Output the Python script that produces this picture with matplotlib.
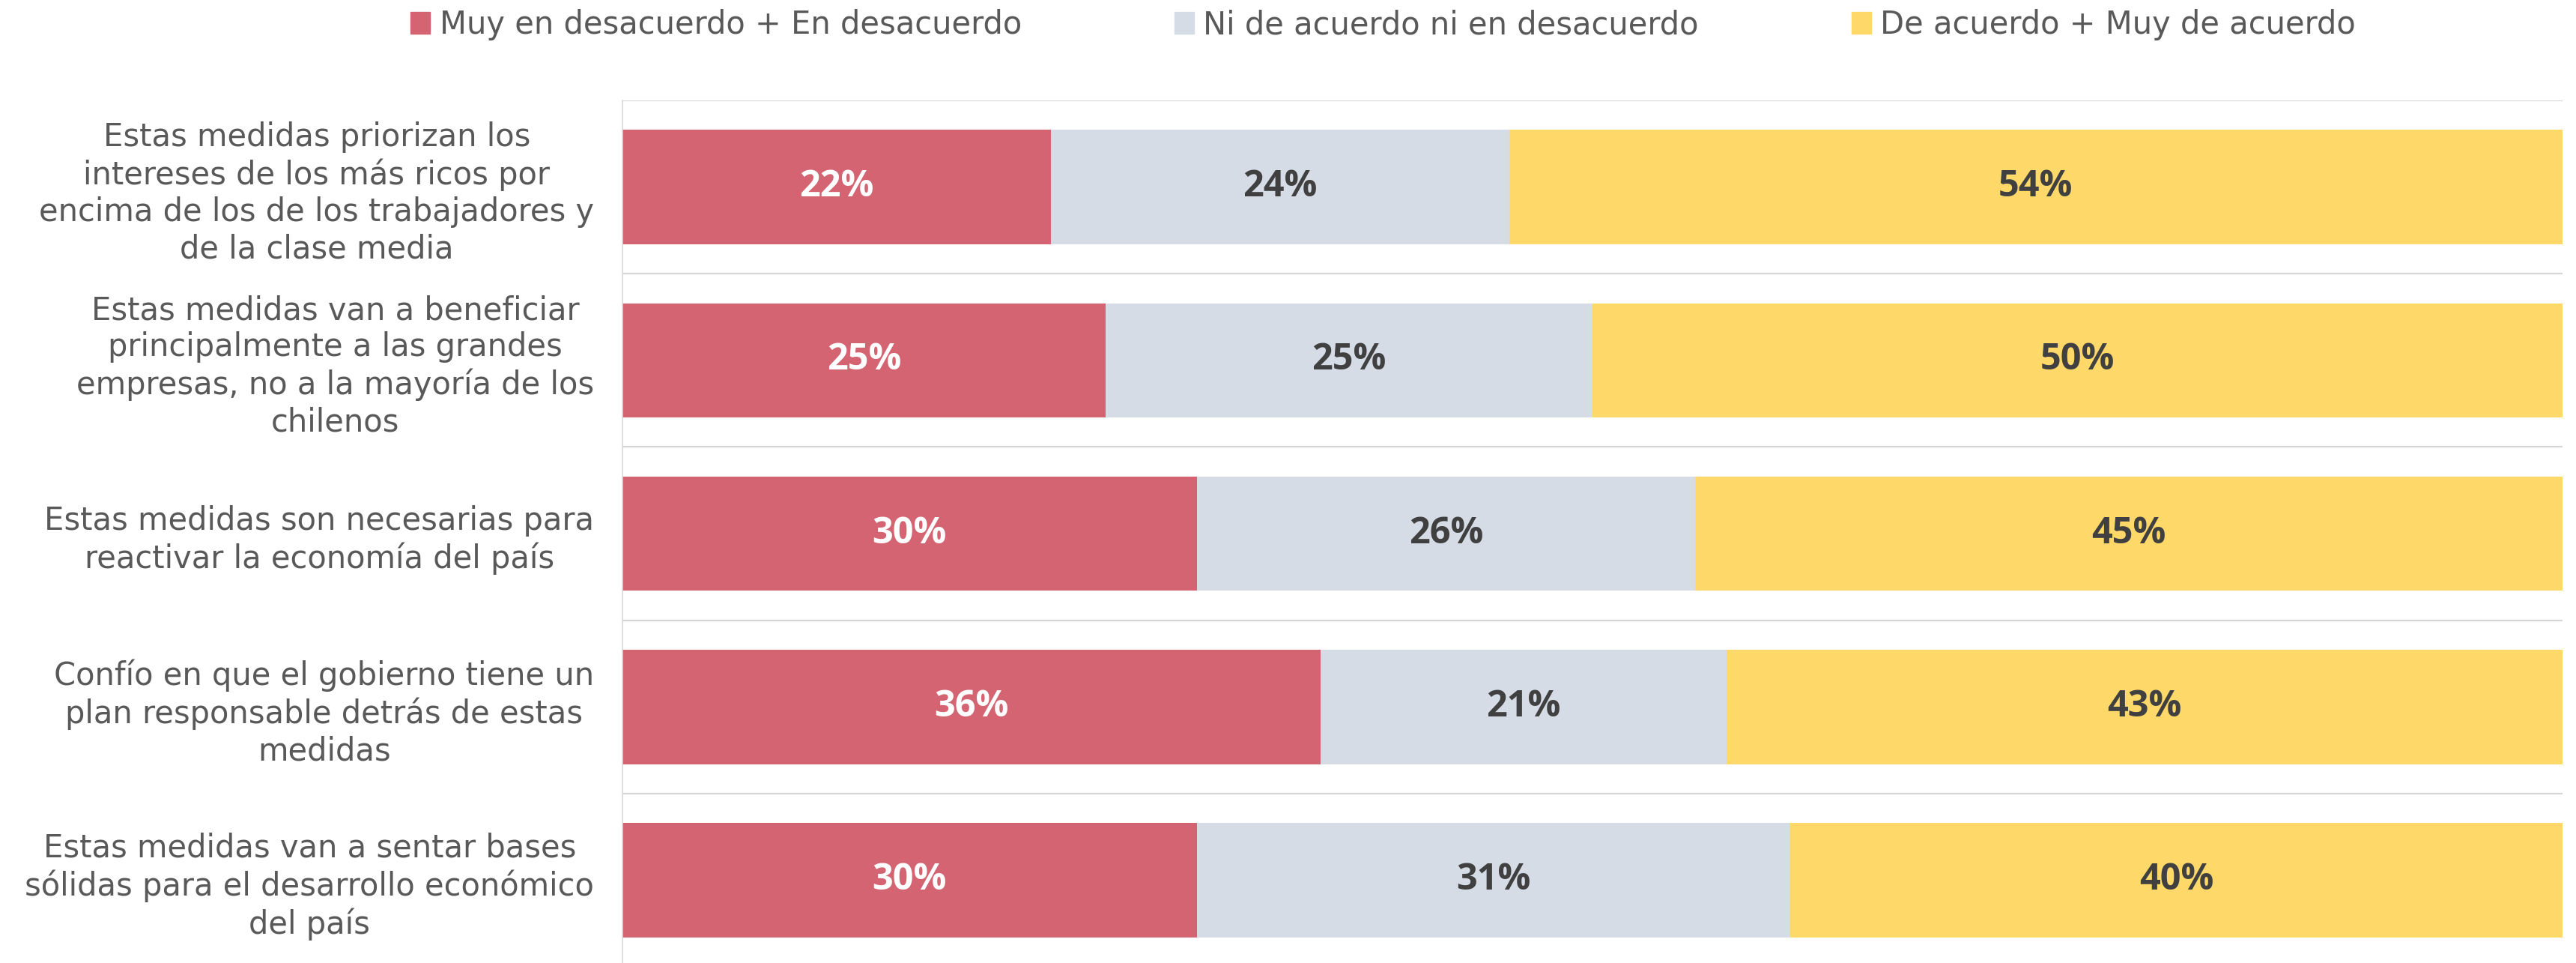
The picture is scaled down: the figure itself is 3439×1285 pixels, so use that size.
import numpy as np
import matplotlib.pyplot as plt
from matplotlib.patches import Patch

plt.rcParams['font.family'] = ['DejaVu Sans']

# data
categories = [
    "Estas medidas priorizan los\nintereses de los más ricos por\nencima de los de los trabajadores y\nde la clase media",
    "Estas medidas van a beneficiar\nprincipalmente a las grandes\nempresas, no a la mayoría de los\nchilenos",
    "Estas medidas son necesarias para\nreactivar la economía del país",
    "Confío en que el gobierno tiene un\nplan responsable detrás de estas\nmedidas",
    "Estas medidas van a sentar bases\nsólidas para el desarrollo económico\ndel país",
]
series_names = ["Muy en desacuerdo + En desacuerdo",
                "Ni de acuerdo ni en desacuerdo",
                "De acuerdo + Muy de acuerdo"]
desacuerdo = [22.1, 24.9, 29.6, 36.0, 29.6]
neutral = [23.6, 25.1, 25.7, 20.9, 30.6]
acuerdo = [54.3, 50.0, 44.7, 43.1, 39.8]

colors = ['#D46472', '#D5DCE6', '#FED969']
label_colors = ['white', '#404040', '#404040']

fig = plt.figure(figsize=(34.39, 12.85), dpi=100)
ax = fig.add_axes([0.2416, -0.0039, 0.7532, 0.8996])

y = np.arange(len(categories))
left = np.zeros(len(categories))
for vals, c, lc, name in zip([desacuerdo, neutral, acuerdo], colors, label_colors, series_names):
    vals = np.array(vals)
    ax.barh(y, vals, left=left, height=0.66, color=c, label=name)
    for yi, l, v in zip(y, left, vals):
        ax.text(l + v / 2, yi, f"{round(v)}%", ha='center', va='center',
                color=lc, fontsize=35, fontweight='bold', family='Open Sans')
    left = left + vals

ax.set_xlim(0, 100)
ax.set_ylim(len(categories) - 0.5, -0.5)
ax.set_xticks([])
ax.set_yticks(y)
ax.set_yticklabels(categories, fontsize=30, color='#595959')
for t in ax.get_yticklabels():
    t.set_multialignment('center')
    t.set_linespacing(1.22)
ax.tick_params(axis='y', length=0, pad=27)

ax.set_yticks(np.arange(-0.5, len(categories), 1), minor=True)
ax.tick_params(axis='y', which='minor', length=0)
ax.grid(True, axis='y', which='minor', color='#D6D6D6', linewidth=1.6)
ax.set_axisbelow(True)

for s in ['top', 'right', 'bottom']:
    ax.spines[s].set_visible(False)
ax.spines['left'].set_color('#D9D9D9')
ax.spines['left'].set_linewidth(1.2)

handles = [Patch(color=c) for c in colors]
fig.legend(handles, series_names, loc='center', bbox_to_anchor=(0.537, 0.974),
           ncol=3, frameon=False, fontsize=30, labelcolor='#595959',
           handlelength=0.62, handleheight=0.7, handletextpad=0.3, columnspacing=4.9)

fig.savefig('out.png', dpi=100)
